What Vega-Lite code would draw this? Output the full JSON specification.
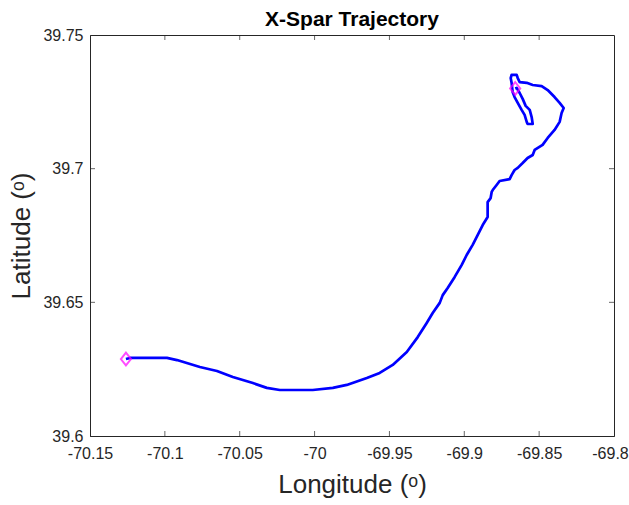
{
  "$schema": "https://vega.github.io/schema/vega-lite/v6.json",
  "width": 524,
  "height": 401,
  "autosize": {"type": "none"},
  "padding": {"left": 90, "top": 35, "right": 15, "bottom": 69},
  "background": "white",
  "title": {"text": "X-Spar Trajectory", "font": "Liberation Sans", "fontSize": 21, "fontWeight": "bold", "color": "#000000", "anchor": "middle", "offset": -3},
  "config": {
    "view": {"stroke": "#262626", "strokeWidth": 1},
    "axis": {"labelFont": "Liberation Sans", "titleFont": "Liberation Sans", "labelFontSize": 16, "titleFontSize": 26, "titleFontWeight": "normal", "labelColor": "#262626", "titleColor": "#262626", "domainColor": "#262626", "ticks": false, "grid": false}
  },
  "datasets": {
    "track": [
      {"i":1,"lon":-70.1260,"lat":39.6288},{"i":2,"lon":-70.1233,"lat":39.6292},{"i":3,"lon":-70.0986,"lat":39.6292},{"i":4,"lon":-70.0919,"lat":39.6284},{"i":5,"lon":-70.0766,"lat":39.6258},{"i":6,"lon":-70.0652,"lat":39.6243},{"i":7,"lon":-70.0546,"lat":39.6221},{"i":8,"lon":-70.0412,"lat":39.6198},{"i":9,"lon":-70.0319,"lat":39.6180},{"i":10,"lon":-70.0232,"lat":39.6172},{"i":11,"lon":-70.0012,"lat":39.6172},{"i":12,"lon":-69.9878,"lat":39.6180},{"i":13,"lon":-69.9785,"lat":39.6191},{"i":14,"lon":-69.9651,"lat":39.6217},{"i":15,"lon":-69.9565,"lat":39.6236},{"i":16,"lon":-69.9478,"lat":39.6266},{"i":17,"lon":-69.9384,"lat":39.6314},{"i":18,"lon":-69.9311,"lat":39.6370},{"i":19,"lon":-69.9251,"lat":39.6423},{"i":20,"lon":-69.9211,"lat":39.6460},{"i":21,"lon":-69.9164,"lat":39.6498},{"i":22,"lon":-69.9144,"lat":39.6527},{"i":23,"lon":-69.9111,"lat":39.6554},{"i":24,"lon":-69.9064,"lat":39.6595},{"i":25,"lon":-69.9017,"lat":39.6640},{"i":26,"lon":-69.8984,"lat":39.6677},{"i":27,"lon":-69.8944,"lat":39.6715},{"i":28,"lon":-69.8910,"lat":39.6752},{"i":29,"lon":-69.8877,"lat":39.6789},{"i":30,"lon":-69.8844,"lat":39.6819},{"i":31,"lon":-69.8844,"lat":39.6875},{"i":32,"lon":-69.8824,"lat":39.6890},{"i":33,"lon":-69.8817,"lat":39.6913},{"i":34,"lon":-69.8810,"lat":39.6920},{"i":35,"lon":-69.8784,"lat":39.6939},{"i":36,"lon":-69.8764,"lat":39.6954},{"i":37,"lon":-69.8697,"lat":39.6961},{"i":38,"lon":-69.8684,"lat":39.6976},{"i":39,"lon":-69.8664,"lat":39.6995},{"i":40,"lon":-69.8643,"lat":39.7003},{"i":41,"lon":-69.8610,"lat":39.7021},{"i":42,"lon":-69.8577,"lat":39.7040},{"i":43,"lon":-69.8543,"lat":39.7051},{"i":44,"lon":-69.8530,"lat":39.7070},{"i":45,"lon":-69.8477,"lat":39.7089},{"i":46,"lon":-69.8443,"lat":39.7115},{"i":47,"lon":-69.8397,"lat":39.7145},{"i":48,"lon":-69.8363,"lat":39.7175},{"i":49,"lon":-69.8350,"lat":39.7208},{"i":50,"lon":-69.8336,"lat":39.7227},{"i":51,"lon":-69.8363,"lat":39.7246},{"i":52,"lon":-69.8397,"lat":39.7268},{"i":53,"lon":-69.8443,"lat":39.7294},{"i":54,"lon":-69.8483,"lat":39.7309},{"i":55,"lon":-69.8543,"lat":39.7313},{"i":56,"lon":-69.8583,"lat":39.7321},{"i":57,"lon":-69.8630,"lat":39.7324},{"i":58,"lon":-69.8643,"lat":39.7339},{"i":59,"lon":-69.8650,"lat":39.7351},{"i":60,"lon":-69.8684,"lat":39.7351},{"i":61,"lon":-69.8690,"lat":39.7339},{"i":62,"lon":-69.8684,"lat":39.7321},{"i":63,"lon":-69.8677,"lat":39.7287},{"i":64,"lon":-69.8664,"lat":39.7268},{"i":65,"lon":-69.8643,"lat":39.7246},{"i":66,"lon":-69.8617,"lat":39.7220},{"i":67,"lon":-69.8597,"lat":39.7201},{"i":68,"lon":-69.8583,"lat":39.7175},{"i":69,"lon":-69.8577,"lat":39.7167},{"i":70,"lon":-69.8543,"lat":39.7167},{"i":71,"lon":-69.8550,"lat":39.7193},{"i":72,"lon":-69.8563,"lat":39.7220},{"i":73,"lon":-69.8590,"lat":39.7235},{"i":74,"lon":-69.8610,"lat":39.7261},{"i":75,"lon":-69.8630,"lat":39.7283},{"i":76,"lon":-69.8650,"lat":39.7302},{"i":77,"lon":-69.8660,"lat":39.7300}
    ],
    "ends": [
      {"name":"start","lon":-70.1260,"lat":39.6288},
      {"name":"end","lon":-69.8660,"lat":39.7300}
    ],
    "xticks": [
      {"lon":-70.1,"lat":39.6},{"lon":-70.05,"lat":39.6},{"lon":-70,"lat":39.6},{"lon":-69.95,"lat":39.6},{"lon":-69.9,"lat":39.6},{"lon":-69.85,"lat":39.6},
      {"lon":-70.1,"lat":39.75},{"lon":-70.05,"lat":39.75},{"lon":-70,"lat":39.75},{"lon":-69.95,"lat":39.75},{"lon":-69.9,"lat":39.75},{"lon":-69.85,"lat":39.75}
    ],
    "yticks": [
      {"lon":-70.15,"lat":39.65},{"lon":-70.15,"lat":39.7},{"lon":-69.8,"lat":39.65},{"lon":-69.8,"lat":39.7}
    ]
  },
  "layer": [
    {
      "data": {"name": "track"},
      "mark": {"type": "line", "color": "#0000ff", "strokeWidth": 2.7, "interpolate": "linear", "strokeJoin": "round"},
      "encoding": {
        "x": {"field": "lon", "type": "quantitative", "scale": {"domain": [-70.15, -69.8], "nice": false, "zero": false},
              "axis": {"orient": "bottom", "title": "Longitude (ᵒ)", "values": [-70.15,-70.1,-70.05,-70,-69.95,-69.9,-69.85,-69.8], "labelExpr": "replace(format(datum.value, '.2~f'), '\u2212', '-')", "labelPadding": 9, "titlePadding": 10, "labelFlush": false, "labelOverlap": false, "labelOffset": {"condition": {"test": "datum.value > -69.81", "value": -4}, "value": 0}}},
        "y": {"field": "lat", "type": "quantitative", "scale": {"domain": [39.6, 39.75], "nice": false, "zero": false},
              "axis": {"orient": "left", "title": "Latitude (ᵒ)", "values": [39.6,39.65,39.7,39.75], "labelExpr": "format(datum.value, '.2~f')", "labelPadding": 7, "titlePadding": 8, "labelFlush": false, "labelOverlap": false}},
        "order": {"field": "i", "type": "quantitative"}
      }
    },
    {
      "data": {"name": "xticks"},
      "mark": {"type": "tick", "orient": "vertical", "color": "#262626", "thickness": 1, "size": 10, "clip": true},
      "encoding": {
        "x": {"field": "lon", "type": "quantitative"},
        "y": {"field": "lat", "type": "quantitative"}
      }
    },
    {
      "data": {"name": "yticks"},
      "mark": {"type": "tick", "orient": "horizontal", "color": "#262626", "thickness": 1, "size": 10, "clip": true},
      "encoding": {
        "x": {"field": "lon", "type": "quantitative"},
        "y": {"field": "lat", "type": "quantitative"}
      }
    },
    {
      "data": {"name": "ends"},
      "mark": {"type": "point", "shape": "M-0.8,0L0,-1L0.8,0L0,1Z", "filled": false, "color": "#ff00ff", "strokeWidth": 2, "size": 160},
      "encoding": {
        "x": {"field": "lon", "type": "quantitative"},
        "y": {"field": "lat", "type": "quantitative"}
      }
    }
  ]
}
